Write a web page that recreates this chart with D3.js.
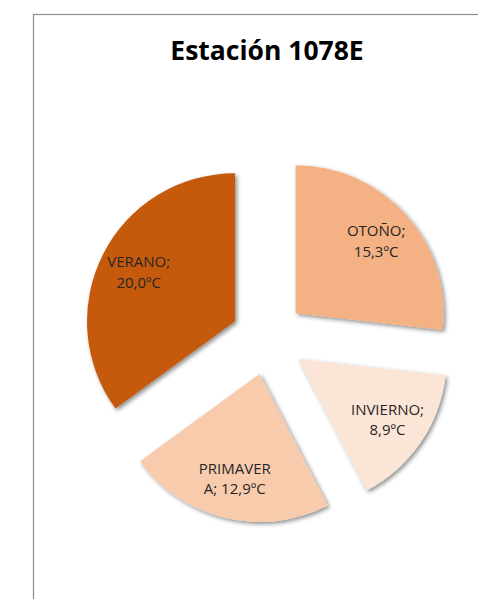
<!DOCTYPE html>
<html>
<head>
<meta charset="utf-8">
<script src="https://cdn.jsdelivr.net/npm/d3@7"></script>
<style>
  html, body { margin: 0; padding: 0; background: #fff; }
  svg { display: block; }
</style>
</head>
<body>
<script>
// ---- data ----
const title = "Estación 1078E";
const categories = ["OTOÑO", "INVIERNO", "PRIMAVERA", "VERANO"];
const values = [15.3, 8.9, 12.9, 20.0];
const labelLines = [
  ["OTOÑO;", "15,3ºC"],
  ["INVIERNO;", "8,9ºC"],
  ["PRIMAVER", "A; 12,9ºC"],
  ["VERANO;", "20,0ºC"]
];
const colors = ["#F4B183", "#FBE5D6", "#F8CBAD", "#C55A11"];

// ---- layout ----
const W = 478, H = 599;
const cx = 268, cy = 338, R = 148, explode = 37;

const svg = d3.select("body").append("svg").attr("width", W).attr("height", H);

const defs = svg.append("defs");
const f = defs.append("filter").attr("id", "shadow")
  .attr("x", "-20%").attr("y", "-20%").attr("width", "140%").attr("height", "140%");
f.append("feDropShadow").attr("dx", 2).attr("dy", 2).attr("stdDeviation", 2)
  .attr("flood-color", "#000").attr("flood-opacity", 0.45);

svg.append("rect").attr("x", 33.5).attr("y", 14.5).attr("width", 600).attr("height", 700)
  .attr("fill", "#fff").attr("stroke", "#8c8c8c").attr("stroke-width", 1.2);

svg.append("text").attr("x", cx - 1).attr("y", 59.5)
  .attr("text-anchor", "middle")
  .attr("font-family", "'Open Sans', sans-serif").attr("font-weight", "bold")
  .attr("font-size", 26.5).attr("fill", "#000").text(title);

const pie = d3.pie().sort(null).value(d => d)(values);
const arc = d3.arc().innerRadius(0).outerRadius(R);

const g = svg.append("g").attr("transform", `translate(${cx},${cy})`);

const slices = g.selectAll("g.slice").data(pie).enter().append("g")
  .attr("class", "slice")
  .attr("transform", d => {
    const m = (d.startAngle + d.endAngle) / 2;
    return `translate(${explode * Math.sin(m)},${-explode * Math.cos(m)})`;
  });

slices.append("path").attr("d", arc)
  .attr("fill", (d, i) => colors[i])
  .attr("filter", "url(#shadow)");

const labelArc = d3.arc().innerRadius(R * 0.73).outerRadius(R * 0.73);
slices.each(function(d, i) {
  const [lx, ly] = labelArc.centroid(d);
  const t = d3.select(this).append("text")
    .attr("text-anchor", "middle")
    .attr("font-family", "'Open Sans', sans-serif")
    .attr("font-size", 15).attr("fill", "#262626");
  const lines = labelLines[i];
  lines.forEach((ln, k) => {
    t.append("tspan").attr("x", lx)
      .attr("y", ly + (k - (lines.length - 1) / 2) * 20.5 + 5)
      .text(ln);
  });
});
</script>
</body>
</html>
